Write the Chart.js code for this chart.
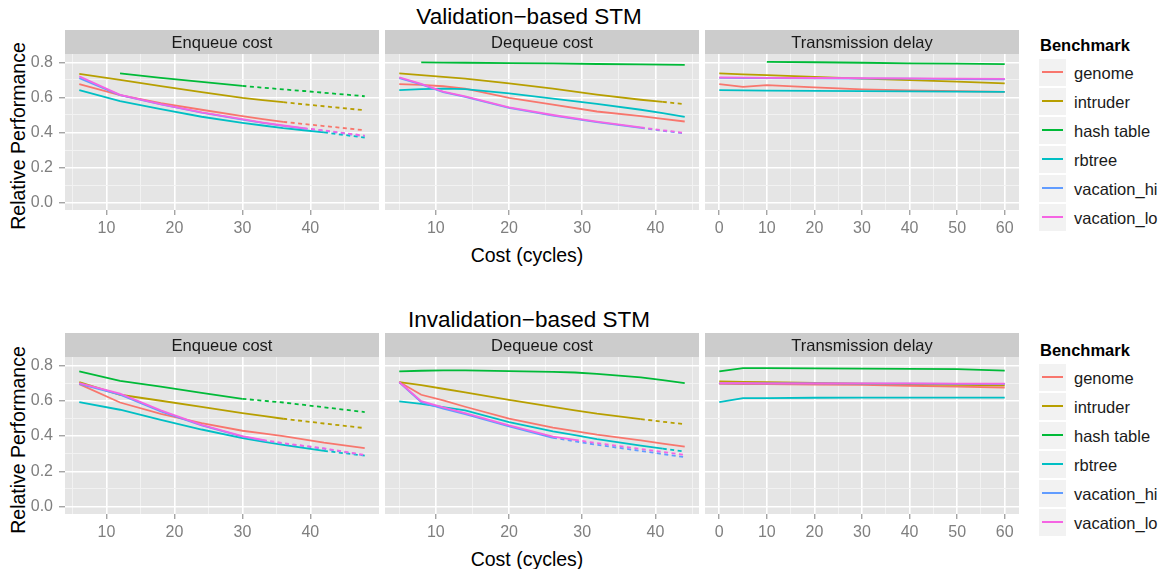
<!DOCTYPE html>
<html>
<head>
<meta charset="utf-8">
<title>STM relative performance</title>
<script src="https://cdn.jsdelivr.net/npm/chart.js@4.4.1/dist/chart.umd.min.js"></script>
<style>
  body { margin: 0; background: #fff; font-family: "Liberation Sans", Arial, sans-serif; }
  #fig { position: relative; width: 1164px; height: 569px; overflow: hidden; }
  .lbl { position: absolute; white-space: nowrap; color: #000; transform: translate(-50%, -50%); }
  .ytitle { transform: translate(-50%, -50%) rotate(-90deg); }
  .panel { position: absolute; }
  .key { position: absolute; width: 27px; height: 27px; background: #F2F2F2; }
  .key span { position: absolute; left: 3px; top: 12px; width: 21px; height: 2px; }
  .keylbl { position: absolute; font-size: 16.5px; color: #1A1A1A; transform: translateY(-50%); }
  .legtitle { position: absolute; font-size: 16.5px; font-weight: bold; transform: translateY(-50%); }
</style>
</head>
<body>
<div id="fig"></div>
<script>
const benchmarks = ['genome', 'intruder', 'hash table', 'rbtree', 'vacation_hi', 'vacation_lo'];
const palette = ['#F8766D', '#B79F00', '#00BA38', '#00BFC4', '#619CFF', '#F564E3'];

// Validation-based STM -- enqueue cost
const valEnqCost = [6, 12, 18, 24, 30, 33, 36, 39, 42, 48];
const valEnqPerf = [
  [0.676, 0.613, 0.568, 0.530, 0.493, 0.477, 0.461, 0.449, 0.437, 0.413],
  [0.735, 0.700, 0.665, 0.630, 0.598, 0.585, 0.573, 0.561, 0.550, 0.527],
  [null,  0.737, 0.712, 0.689, 0.666, 0.656, 0.646, 0.637, 0.627, 0.607],
  [0.642, 0.579, 0.533, 0.490, 0.455, 0.440, 0.425, 0.413, 0.401, 0.371],
  [0.710, 0.613, 0.560, 0.513, 0.474, 0.455, 0.438, 0.423, 0.410, 0.379],
  [0.720, 0.615, 0.562, 0.515, 0.476, 0.457, 0.440, 0.425, 0.412, 0.382]
];
const valEnqMeasuredTo = [36, 36, 30, 42, 39, 39];

// Validation-based STM -- dequeue cost
const valDeqCost = [5, 8, 11, 14, 20, 26, 32, 38, 41, 44];
const valDeqPerf = [
  [0.676, 0.672, 0.664, 0.650, 0.598, 0.559, 0.520, 0.493, 0.478, 0.463],
  [0.737, 0.728, 0.718, 0.707, 0.680, 0.650, 0.616, 0.587, 0.575, 0.562],
  [null,  0.800, 0.799, 0.798, 0.796, 0.794, 0.791, 0.789, 0.787, 0.786],
  [0.642, 0.648, 0.651, 0.648, 0.623, 0.594, 0.563, 0.530, 0.511, 0.489],
  [0.711, 0.675, 0.630, 0.603, 0.540, 0.497, 0.459, 0.426, 0.410, 0.395],
  [0.714, 0.678, 0.633, 0.606, 0.543, 0.500, 0.462, 0.429, 0.413, 0.398]
];
const valDeqMeasuredTo = [44, 41, 44, 44, 38, 38];

// Validation-based STM -- transmission delay
const valDelay = [0, 5, 10, 20, 30, 40, 50, 60];
const valDelayPerf = [
  [0.676, 0.661, 0.670, 0.658, 0.646, 0.640, 0.636, 0.632],
  [0.737, 0.732, 0.727, 0.718, 0.708, 0.699, 0.690, 0.680],
  [null,  null,  0.803, 0.801, 0.798, 0.795, 0.793, 0.790],
  [0.642, 0.640, 0.639, 0.638, 0.636, 0.635, 0.633, 0.632],
  [0.712, 0.711, 0.710, 0.709, 0.708, 0.707, 0.705, 0.704],
  [0.714, 0.713, 0.712, 0.711, 0.710, 0.709, 0.707, 0.706]
];
const valDelayMeasuredTo = [60, 60, 60, 60, 60, 60];

// Invalidation-based STM -- enqueue cost
const invEnqCost = [6, 12, 18, 24, 30, 33, 36, 42, 48];
const invEnqPerf = [
  [0.694, 0.590, 0.525, 0.473, 0.430, 0.415, 0.400, 0.362, 0.331],
  [0.706, 0.634, 0.600, 0.565, 0.530, 0.514, 0.498, 0.471, 0.445],
  [0.766, 0.713, 0.680, 0.645, 0.611, 0.600, 0.590, 0.563, 0.536],
  [0.592, 0.549, 0.492, 0.437, 0.388, 0.368, 0.350, 0.316, 0.289],
  [0.695, 0.635, 0.540, 0.460, 0.397, 0.375, 0.357, 0.328, 0.290],
  [0.700, 0.640, 0.545, 0.463, 0.400, 0.378, 0.360, 0.330, 0.293]
];
const invEnqMeasuredTo = [48, 36, 30, 42, 33, 33];

// Invalidation-based STM -- dequeue cost
const invDeqCost = [5, 8, 11, 14, 20, 26, 29, 32, 38, 41, 44];
const invDeqPerf = [
  [0.706, 0.634, 0.602, 0.566, 0.498, 0.448, 0.428, 0.408, 0.375, 0.357, 0.340],
  [0.706, 0.688, 0.668, 0.648, 0.605, 0.565, 0.546, 0.527, 0.496, 0.481, 0.467],
  [0.766, 0.770, 0.772, 0.772, 0.768, 0.764, 0.760, 0.752, 0.733, 0.717, 0.700],
  [0.596, 0.582, 0.564, 0.545, 0.479, 0.427, 0.405, 0.383, 0.345, 0.328, 0.312],
  [0.704, 0.592, 0.556, 0.524, 0.455, 0.390, 0.370, 0.350, 0.316, 0.298, 0.280],
  [0.706, 0.598, 0.562, 0.530, 0.460, 0.396, 0.378, 0.360, 0.327, 0.310, 0.293]
];
const invDeqMeasuredTo = [44, 38, 44, 41, 26, 29];

// Invalidation-based STM -- transmission delay
const invDelay = [0, 5, 10, 20, 30, 40, 50, 60];
const invDelayPerf = [
  [0.696, 0.695, 0.694, 0.692, 0.690, 0.685, 0.680, 0.675],
  [0.709, 0.707, 0.705, 0.701, 0.697, 0.694, 0.690, 0.687],
  [0.766, 0.785, 0.785, 0.784, 0.782, 0.781, 0.779, 0.771],
  [0.592, 0.615, 0.615, 0.617, 0.618, 0.618, 0.618, 0.618],
  [0.699, 0.699, 0.698, 0.698, 0.697, 0.697, 0.696, 0.696],
  [0.700, 0.700, 0.699, 0.699, 0.698, 0.698, 0.697, 0.697]
];
const invDelayMeasuredTo = [60, 60, 60, 60, 60, 60];

const costTicks = [10, 20, 30, 40];
const delayTicks = [0, 10, 20, 30, 40, 50, 60];
const perfTicks = [0, 0.2, 0.4, 0.6, 0.8];

const rows = [
  { title: 'Validation−based STM', facets: [
    { name: 'Enqueue cost', x: valEnqCost, y: valEnqPerf, measuredTo: valEnqMeasuredTo, range: [3.9, 50.1], ticks: costTicks },
    { name: 'Dequeue cost', x: valDeqCost, y: valDeqPerf, measuredTo: valDeqMeasuredTo, range: [3.05, 45.95], ticks: costTicks },
    { name: 'Transmission delay', x: valDelay, y: valDelayPerf, measuredTo: valDelayMeasuredTo, range: [-3, 63], ticks: delayTicks }
  ]},
  { title: 'Invalidation−based STM', facets: [
    { name: 'Enqueue cost', x: invEnqCost, y: invEnqPerf, measuredTo: invEnqMeasuredTo, range: [3.9, 50.1], ticks: costTicks },
    { name: 'Dequeue cost', x: invDeqCost, y: invDeqPerf, measuredTo: invDeqMeasuredTo, range: [3.05, 45.95], ticks: costTicks },
    { name: 'Transmission delay', x: invDelay, y: invDelayPerf, measuredTo: invDelayMeasuredTo, range: [-3, 63], ticks: delayTicks }
  ]}
];

// layout (px)
const PANEL_LEFT = [65, 385, 705];
const PANEL_W = 314;
const ROW_TOP = [30, 333];
const PLOT_H = [156, 157];
const STRIP_H = 24;
const XAXIS_H = 30;
const YAXIS_W = 45;
const Y_RANGE = [-0.042, 0.848];
const FONT = '"Liberation Sans", Arial, sans-serif';

Chart.defaults.font.family = FONT;

const fig = document.getElementById('fig');

function addText(cls, text, x, y, size, extra) {
  const d = document.createElement('div');
  d.className = cls;
  d.textContent = text;
  d.style.left = x + 'px';
  d.style.top = y + 'px';
  d.style.fontSize = size + 'px';
  if (extra) Object.assign(d.style, extra);
  fig.appendChild(d);
  return d;
}

// majors plus the half-way minors that fall inside the range
function buildTicks(majors, lo, hi) {
  const out = majors.map(v => ({ value: v }));
  const step = majors[1] - majors[0];
  const cand = [majors[0] - step / 2];
  majors.forEach(v => cand.push(v + step / 2));
  cand.forEach(v => { if (v > lo && v < hi) out.push({ value: v, minor: true }); });
  return out.sort((a, b) => a.value - b.value);
}

const isMinor = c => c.tick && c.tick.minor;

function facetPlugin(label) {
  return {
    id: 'facet',
    beforeDraw(chart) {
      const { ctx, chartArea: a } = chart;
      ctx.save();
      ctx.fillStyle = '#E5E5E5';
      ctx.fillRect(a.left, a.top, a.right - a.left, a.bottom - a.top);
      ctx.fillStyle = '#CCCCCC';
      ctx.fillRect(a.left, a.top - STRIP_H, a.right - a.left, STRIP_H);
      ctx.fillStyle = '#1A1A1A';
      ctx.font = '16.5px ' + FONT;
      ctx.textAlign = 'center';
      ctx.textBaseline = 'middle';
      ctx.fillText(label, (a.left + a.right) / 2, a.top - STRIP_H / 2 + 1);
      ctx.restore();
    }
  };
}

function makeDatasets(f) {
  const sets = [];
  benchmarks.forEach((name, i) => {
    const pts = f.x.map((x, k) => ({ x: x, y: f.y[i][k] })).filter(p => p.y !== null);
    const solid = pts.filter(p => p.x <= f.measuredTo[i]);
    const dotted = pts.filter(p => p.x >= f.measuredTo[i]);
    const base = {
      label: name,
      borderColor: palette[i],
      borderWidth: 1.8,
      pointRadius: 0,
      tension: 0,
      order: benchmarks.length - i
    };
    sets.push(Object.assign({}, base, { data: solid }));
    if (dotted.length > 1) sets.push(Object.assign({}, base, { data: dotted, borderDash: [4, 3.5] }));
  });
  return sets;
}

rows.forEach((row, r) => {
  const top = ROW_TOP[r];
  const plotTop = top + STRIP_H;
  const plotH = PLOT_H[r];

  addText('lbl', row.title, 529, top - 13, 22.5);
  addText('lbl', 'Cost (cycles)', 527, plotTop + plotH + 45, 19.5);
  addText('lbl ytitle', 'Relative Performance', 18, plotTop + plotH / 2 + 4, 19.5);

  row.facets.forEach((f, c) => {
    const first = c === 0;
    const left = PANEL_LEFT[c] - (first ? YAXIS_W : 0);
    const box = document.createElement('div');
    box.className = 'panel';
    box.style.left = left + 'px';
    box.style.top = top + 'px';
    box.style.width = (PANEL_W + (first ? YAXIS_W : 0)) + 'px';
    box.style.height = (STRIP_H + plotH + XAXIS_H) + 'px';
    const cv = document.createElement('canvas');
    box.appendChild(cv);
    fig.appendChild(box);

    new Chart(cv, {
      type: 'line',
      data: { datasets: makeDatasets(f) },
      options: {
        responsive: true,
        maintainAspectRatio: false,
        animation: false,
        events: [],
        layout: { padding: { top: STRIP_H, left: 0, right: 0, bottom: 0 } },
        plugins: { legend: { display: false }, tooltip: { enabled: false } },
        scales: {
          x: {
            type: 'linear',
            min: f.range[0],
            max: f.range[1],
            afterBuildTicks: s => { s.ticks = buildTicks(f.ticks, f.range[0], f.range[1]); },
            afterFit: s => { s.height = XAXIS_H; s.paddingLeft = 0; s.paddingRight = 0; },
            border: { display: false },
            grid: {
              color: c => isMinor(c) ? '#F2F2F2' : '#FFFFFF',
              lineWidth: c => isMinor(c) ? 1 : 1.6,
              tickColor: c => isMinor(c) ? 'rgba(0,0,0,0)' : '#7F7F7F',
              tickLength: 5,
              tickWidth: 1
            },
            ticks: {
              autoSkip: false,
              maxRotation: 0,
              padding: 4,
              color: '#7F7F7F',
              font: { size: 16 },
              callback: (v, i, t) => t[i].minor ? '' : String(v)
            }
          },
          y: {
            min: Y_RANGE[0],
            max: Y_RANGE[1],
            afterBuildTicks: s => { s.ticks = buildTicks(perfTicks, Y_RANGE[0], Y_RANGE[1]); },
            afterFit: s => { s.width = first ? YAXIS_W : 0; s.paddingTop = 0; s.paddingBottom = 0; },
            border: { display: false },
            grid: {
              color: c => isMinor(c) ? '#F2F2F2' : '#FFFFFF',
              lineWidth: c => isMinor(c) ? 1 : 1.6,
              tickColor: c => isMinor(c) ? 'rgba(0,0,0,0)' : '#7F7F7F',
              drawTicks: first,
              tickLength: 6,
              tickWidth: 1
            },
            ticks: {
              display: first,
              autoSkip: false,
              padding: 6,
              color: '#7F7F7F',
              font: { size: 16 },
              callback: (v, i, t) => t[i].minor ? '' : v.toFixed(1)
            }
          }
        }
      },
      plugins: [facetPlugin(f.name)]
    });
  });

  // legend
  const legTop = r === 0 ? 45 : 350;
  addText('legtitle', 'Benchmark', 1040, legTop, 16.5);
  benchmarks.forEach((name, i) => {
    const cy = legTop + 27.5 + i * 29;
    const k = document.createElement('div');
    k.className = 'key';
    k.style.left = '1039px';
    k.style.top = (cy - 13.5) + 'px';
    const ln = document.createElement('span');
    ln.style.background = palette[i];
    k.appendChild(ln);
    fig.appendChild(k);
    addText('keylbl', name, 1074, cy, 16.5);
  });
});
</script>
</body>
</html>
